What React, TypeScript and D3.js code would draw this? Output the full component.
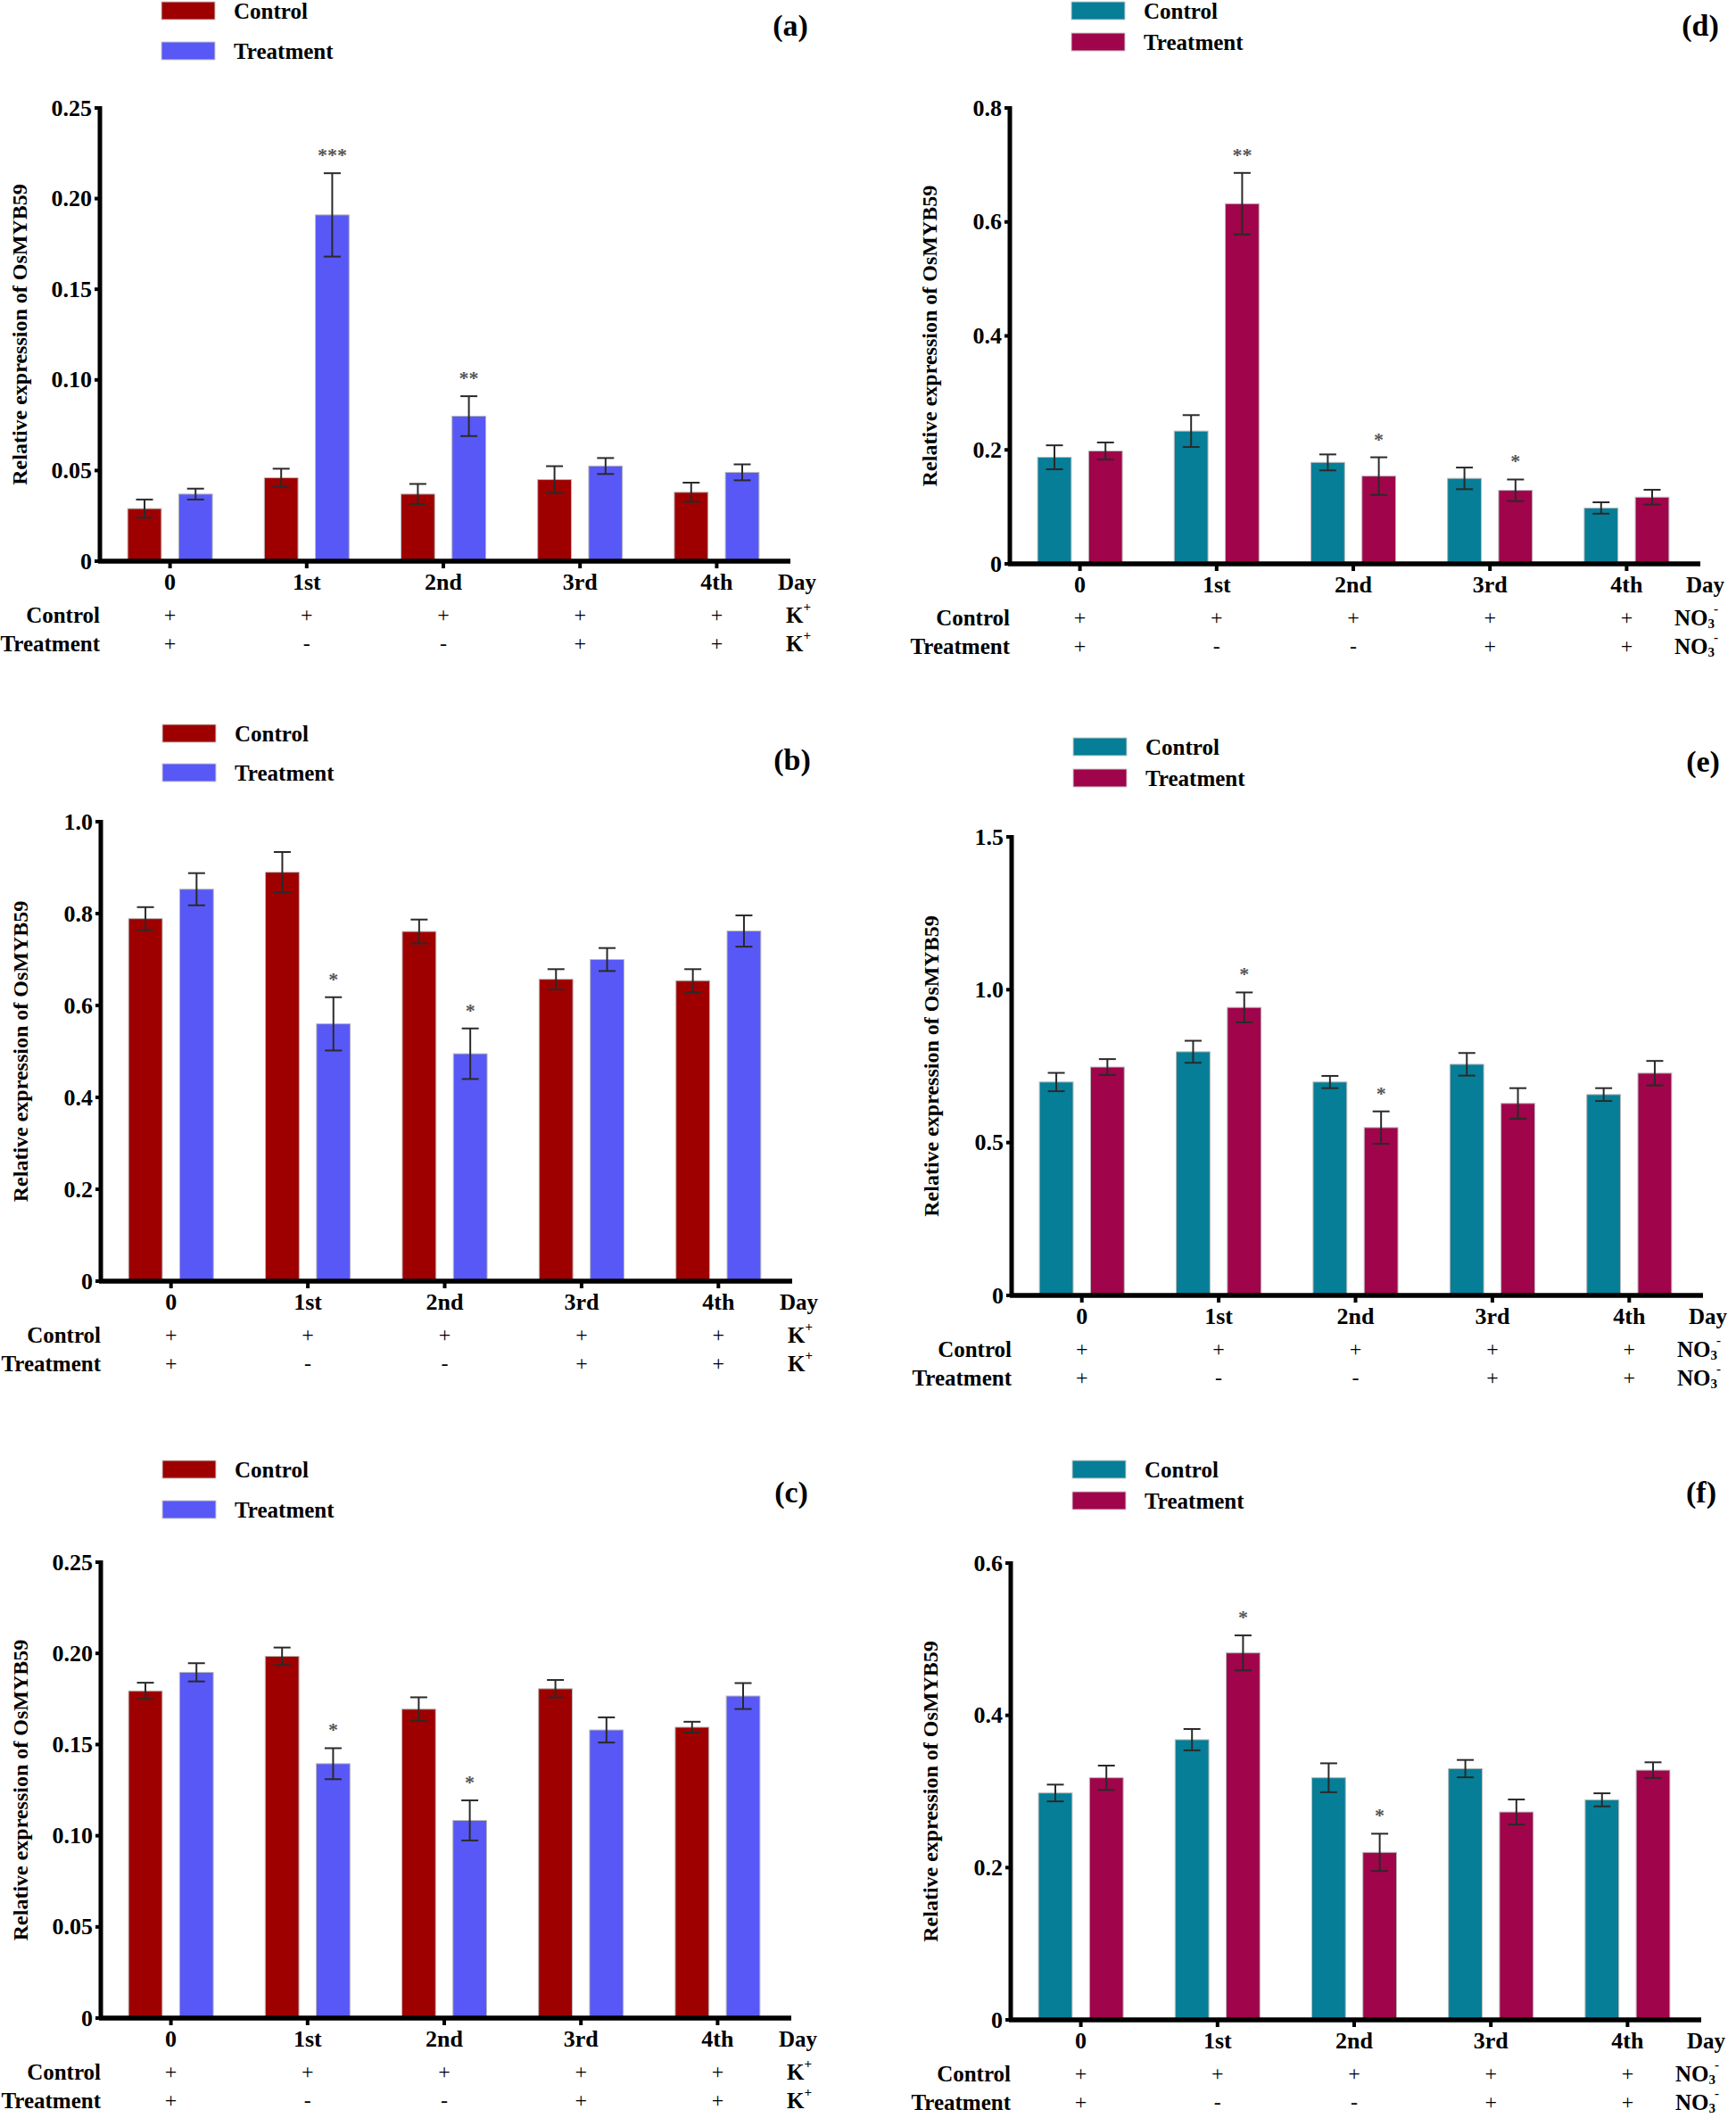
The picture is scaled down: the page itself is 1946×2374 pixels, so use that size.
import React from 'react'
import * as d3 from 'd3'

// shared categories and condition rows
const days = ['0', '1st', '2nd', '3rd', '4th'];
const series = ['Control', 'Treatment'];
const controlRow = ['+', '+', '+', '+', '+'];
const treatmentRow = ['+', '-', '-', '+', '+'];

// (a) K+
const aControl = [0.029, 0.046, 0.037, 0.045, 0.038];
const aControlErr = [0.005, 0.005, 0.0056, 0.0074, 0.0053];
const aTreatment = [0.037, 0.191, 0.080, 0.0525, 0.049];
const aTreatmentErr = [0.003, 0.023, 0.011, 0.0044, 0.0044];
const aSig = ['', '***', '**', '', ''];
const aTicks = [0, 0.05, 0.10, 0.15, 0.20, 0.25];

// (b) K+
const bControl = [0.789, 0.890, 0.761, 0.657, 0.654];
const bControlErr = [0.025, 0.044, 0.026, 0.022, 0.025];
const bTreatment = [0.853, 0.560, 0.495, 0.700, 0.762];
const bTreatmentErr = [0.035, 0.058, 0.055, 0.025, 0.034];
const bSig = ['', '*', '*', '', ''];
const bTicks = [0, 0.2, 0.4, 0.6, 0.8, 1.0];

// (c) K+
const cControl = [0.1794, 0.1984, 0.1694, 0.1806, 0.1595];
const cControlErr = [0.0045, 0.0048, 0.0065, 0.0048, 0.003];
const cTreatment = [0.1896, 0.1395, 0.1084, 0.158, 0.1766];
const cTreatmentErr = [0.005, 0.0085, 0.011, 0.0069, 0.0071];
const cSig = ['', '*', '*', '', ''];
const cTicks = [0, 0.05, 0.10, 0.15, 0.20, 0.25];

// (d) NO3-
const dControl = [0.187, 0.233, 0.178, 0.150, 0.098];
const dControlErr = [0.021, 0.028, 0.014, 0.019, 0.01];
const dTreatment = [0.198, 0.632, 0.154, 0.129, 0.117];
const dTreatmentErr = [0.015, 0.054, 0.033, 0.019, 0.013];
const dSig = ['', '**', '*', '*', ''];
const dTicks = [0, 0.2, 0.4, 0.6, 0.8];

// (e) NO3-
const eControl = [0.698, 0.797, 0.698, 0.756, 0.657];
const eControlErr = [0.03, 0.036, 0.02, 0.037, 0.021];
const eTreatment = [0.747, 0.942, 0.549, 0.628, 0.727];
const eTreatmentErr = [0.026, 0.049, 0.053, 0.05, 0.04];
const eSig = ['', '*', '*', '', ''];
const eTicks = [0, 0.5, 1.0, 1.5];

// (f) NO3-
const fControl = [0.298, 0.368, 0.318, 0.330, 0.289];
const fControlErr = [0.011, 0.014, 0.019, 0.0114, 0.0086];
const fTreatment = [0.318, 0.482, 0.220, 0.273, 0.328];
const fTreatmentErr = [0.016, 0.023, 0.0245, 0.0165, 0.0103];
const fSig = ['', '*', '*', '', ''];
const fTicks = [0, 0.2, 0.4, 0.6];

const kColors = ['#9E0000', '#5858F6'];
const nColors = ['#067E97', '#A0044A'];

const font = "'Liberation Serif', 'Times New Roman', serif";
const yTitle = 'Relative expression of OsMYB59';

type PanelProps = {
  letter: string;
  ion: 'K' | 'NO3';
  colors: string[];
  control: number[];
  controlErr: number[];
  treatment: number[];
  treatmentErr: number[];
  sig: string[];
  ticks: number[];
  fmt: string;
  left: number;
  right: number;
  top: number;
  zero: number;
  legendTop: number;
  legendGap: number;
  letterY: number;
};

const IonLabel = ({ ion, x, y }: { ion: string; x: number; y: number }) =>
  ion === 'K' ? (
    <text x={x} y={y} dominantBaseline='central' fontSize={25} fontWeight='bold'>
      K<tspan dy={-9} fontSize={15}>+</tspan>
    </text>
  ) : (
    <text x={x} y={y} dominantBaseline='central' fontSize={25} fontWeight='bold'>
      NO<tspan dy={7} fontSize={15}>3</tspan>
      <tspan dy={-17} dx={-1} fontSize={15}>-</tspan>
    </text>
  );

const Panel = (p: PanelProps) => {
  const y = d3.scaleLinear()
    .domain([0, p.ticks[p.ticks.length - 1]])
    .range([p.zero, p.top]);
  const x = d3.scaleBand<string>()
    .domain(days)
    .range([p.left + 2, p.right - 6]);
  const bw = x.bandwidth();
  const sub = d3.scaleBand<string>()
    .domain(series)
    .range([-0.31 * bw, 0.31 * bw])
    .paddingInner(0.34);
  const fmt = d3.format(p.fmt);
  const cx = (d: string) => (x(d) ?? 0) + bw / 2;
  const groups = [
    { name: 'Control', vals: p.control, errs: p.controlErr, color: p.colors[0] },
    { name: 'Treatment', vals: p.treatment, errs: p.treatmentErr, color: p.colors[1] },
  ];
  const catY = p.zero + 23;
  const row1 = p.zero + 60;
  const row2 = p.zero + 92;
  const legendX = p.left + 69;

  return (
    <g fontFamily={font}>
      {/* legend */}
      {series.map((s, i) => (
        <g key={s}>
          <rect
            x={legendX}
            y={p.legendTop + i * p.legendGap}
            width={60}
            height={20}
            fill={p.colors[i]}
            stroke='#ccc'
            strokeWidth={1}
          />
          <text
            x={legendX + 81}
            y={p.legendTop + i * p.legendGap + 10}
            dominantBaseline='central'
            fontSize={25}
            fontWeight='bold'
          >
            {s}
          </text>
        </g>
      ))}
      <text
        x={p.right}
        y={p.letterY}
        textAnchor='middle'
        dominantBaseline='central'
        fontSize={34}
        fontWeight='bold'
      >
        ({p.letter})
      </text>

      {/* bars and error bars */}
      {groups.map(g => days.map((d, i) => {
        const bx = cx(d) + (sub(g.name) ?? 0);
        const mx = bx + sub.bandwidth() / 2;
        const v = g.vals[i];
        const e = g.errs[i];
        return (
          <g key={g.name + d}>
            <rect
              x={bx}
              y={y(v)}
              width={sub.bandwidth()}
              height={y(0) - y(v)}
              fill={g.color}
              stroke='#b8b8b8'
              strokeWidth={1}
            />
            <g stroke='#2a2a2a' strokeWidth={2}>
              <line x1={mx} x2={mx} y1={y(v + e)} y2={y(v - e)} />
              <line x1={mx - 9.5} x2={mx + 9.5} y1={y(v + e)} y2={y(v + e)} />
              <line x1={mx - 9.5} x2={mx + 9.5} y1={y(v - e)} y2={y(v - e)} />
            </g>
            {g.name === 'Treatment' && p.sig[i] && (
              <text
                x={mx}
                y={y(v + e) - 13}
                textAnchor='middle'
                fontSize={22}
                fontWeight='bold'
                fill='#555'
              >
                {p.sig[i]}
              </text>
            )}
          </g>
        );
      }))}

      {/* y axis */}
      <line x1={p.left} x2={p.left} y1={p.top - 2} y2={p.zero + 2} stroke='#000' strokeWidth={5} />
      {p.ticks.map(t => (
        <g key={t}>
          <line x1={p.left - 6} x2={p.left} y1={y(t)} y2={y(t)} stroke='#000' strokeWidth={4} />
          <text
            x={p.left - 9}
            y={y(t)}
            textAnchor='end'
            dominantBaseline='central'
            fontSize={26}
            fontWeight='bold'
          >
            {t === 0 ? '0' : fmt(t)}
          </text>
        </g>
      ))}
      <text
        transform={`translate(${p.left - 90},${(p.top + p.zero) / 2}) rotate(-90)`}
        textAnchor='middle'
        dominantBaseline='central'
        fontSize={24}
        fontWeight='bold'
      >
        {yTitle}
      </text>

      {/* x axis */}
      <line x1={p.left - 2} x2={p.right} y1={p.zero} y2={p.zero} stroke='#000' strokeWidth={5.5} />
      {days.map((d, i) => (
        <g key={d}>
          <line x1={cx(d)} x2={cx(d)} y1={p.zero} y2={p.zero + 8} stroke='#000' strokeWidth={4} />
          <text x={cx(d)} y={catY} textAnchor='middle' dominantBaseline='central' fontSize={26} fontWeight='bold'>
            {d}
          </text>
          <text x={cx(d)} y={row1} textAnchor='middle' dominantBaseline='central' fontSize={24}>
            {controlRow[i]}
          </text>
          <text x={cx(d)} y={row2} textAnchor='middle' dominantBaseline='central' fontSize={24}>
            {treatmentRow[i]}
          </text>
        </g>
      ))}
      <text
        x={p.ion === 'K' ? p.right - 14 : p.right - 16}
        y={catY}
        dominantBaseline='central'
        fontSize={25}
        fontWeight='bold'
      >
        Day
      </text>
      <text x={p.left} y={row1} textAnchor='end' dominantBaseline='central' fontSize={25} fontWeight='bold'>
        Control
      </text>
      <text x={p.left} y={row2} textAnchor='end' dominantBaseline='central' fontSize={25} fontWeight='bold'>
        Treatment
      </text>
      <IonLabel ion={p.ion} x={p.ion === 'K' ? p.right - 5 : p.right - 29} y={row1} />
      <IonLabel ion={p.ion} x={p.ion === 'K' ? p.right - 5 : p.right - 29} y={row2} />
    </g>
  );
};

const App = () => (
  <div style={{ position: 'absolute', left: 0, top: 0 }}>
    <svg width={1946} height={2374} style={{ display: 'block', background: '#fff' }}>
      <Panel letter='a' ion='K' colors={kColors}
        control={aControl} controlErr={aControlErr} treatment={aTreatment} treatmentErr={aTreatmentErr}
        sig={aSig} ticks={aTicks} fmt='.2f'
        left={112} right={886} top={121} zero={629} legendTop={2} legendGap={45} letterY={28} />
      <Panel letter='b' ion='K' colors={kColors}
        control={bControl} controlErr={bControlErr} treatment={bTreatment} treatmentErr={bTreatmentErr}
        sig={bSig} ticks={bTicks} fmt='.1f'
        left={113} right={888} top={921} zero={1436} legendTop={812} legendGap={44} letterY={851} />
      <Panel letter='c' ion='K' colors={kColors}
        control={cControl} controlErr={cControlErr} treatment={cTreatment} treatmentErr={cTreatmentErr}
        sig={cSig} ticks={cTicks} fmt='.2f'
        left={113} right={887} top={1751} zero={2262} legendTop={1637} legendGap={45} letterY={1672} />
      <Panel letter='d' ion='NO3' colors={nColors}
        control={dControl} controlErr={dControlErr} treatment={dTreatment} treatmentErr={dTreatmentErr}
        sig={dSig} ticks={dTicks} fmt='.1f'
        left={1132} right={1906} top={121} zero={632} legendTop={2} legendGap={35} letterY={28} />
      <Panel letter='e' ion='NO3' colors={nColors}
        control={eControl} controlErr={eControlErr} treatment={eTreatment} treatmentErr={eTreatmentErr}
        sig={eSig} ticks={eTicks} fmt='.1f'
        left={1134} right={1909} top={938} zero={1452} legendTop={827} legendGap={35} letterY={853} />
      <Panel letter='f' ion='NO3' colors={nColors}
        control={fControl} controlErr={fControlErr} treatment={fTreatment} treatmentErr={fTreatmentErr}
        sig={fSig} ticks={fTicks} fmt='.1f'
        left={1133} right={1907} top={1752} zero={2264} legendTop={1637} legendGap={35} letterY={1672} />
    </svg>
  </div>
);

export default App;
